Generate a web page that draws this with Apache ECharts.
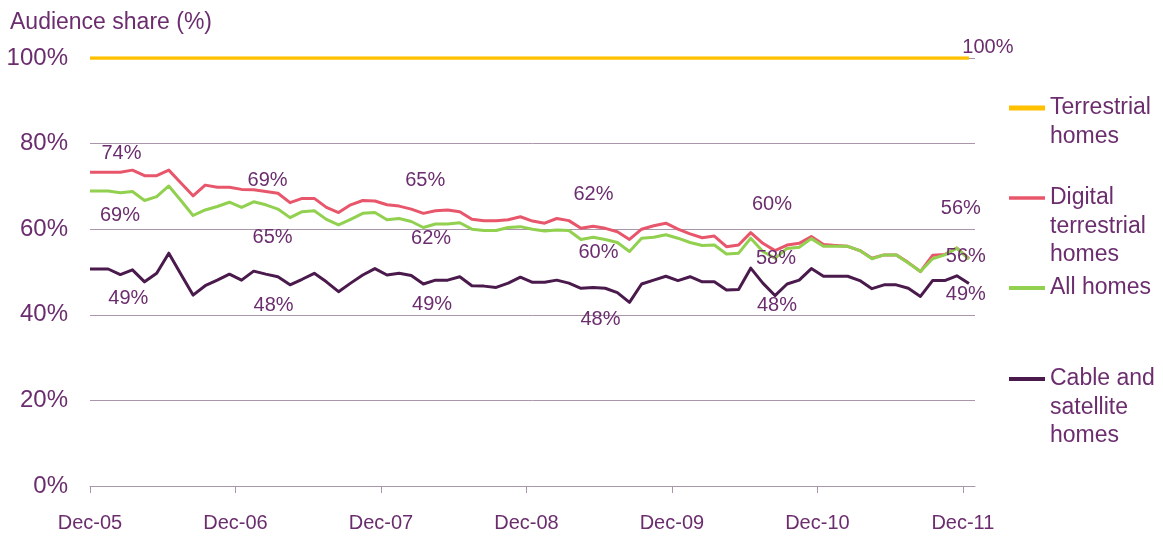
<!DOCTYPE html>
<html>
<head>
<meta charset="utf-8">
<script src="https://cdn.jsdelivr.net/npm/echarts@6/dist/echarts.min.js"></script>
<style>
  html, body { margin: 0; padding: 0; background: #ffffff; }
  #chart { width: 1163px; height: 538px; }
</style>
</head>
<body>
<div id="chart"></div>
<script>
// ---- data -------------------------------------------------------------
// Monthly readings, Dec-05 through Dec-11
const monthNames = ['Jan','Feb','Mar','Apr','May','Jun','Jul','Aug','Sep','Oct','Nov','Dec'];
const months = [];
for (let i = 0; i < 73; i++) {
  const m = (11 + i) % 12;
  const y = 5 + Math.floor((11 + i) / 12);
  months.push(monthNames[m] + '-' + String(y).padStart(2, '0'));
}

const tickLabels = ['Dec-05', 'Dec-06', 'Dec-07', 'Dec-08', 'Dec-09', 'Dec-10', 'Dec-11'];

const terrestrial = [
  100, 100, 100, 100, 100, 100, 100, 100, 100, 100, 100, 100,
  100, 100, 100, 100, 100, 100, 100, 100, 100, 100, 100, 100,
  100, 100, 100, 100, 100, 100, 100, 100, 100, 100, 100, 100,
  100, 100, 100, 100, 100, 100, 100, 100, 100, 100, 100, 100,
  100, 100, 100, 100, 100, 100, 100, 100, 100, 100, 100, 100,
  100, 100, 100, 100, 100, 100, 100, 100, 100, 100, 100, 100,
  100
];

const digitalTerrestrial = [
  73.3, 73.3, 73.3, 73.8, 72.5, 72.5, 73.8, 70.8, 67.8, 70.3, 69.8, 69.8,
  69.3, 69.2, 68.8, 68.4, 66.2, 67.2, 67.2, 65.1, 63.9, 65.7, 66.7, 66.6,
  65.7, 65.4, 64.7, 63.7, 64.3, 64.5, 64.1, 62.3, 62.0, 62.0, 62.2, 62.9,
  61.9, 61.4, 62.5, 62.0, 60.2, 60.7, 60.2, 59.4, 57.6, 60.0, 60.8, 61.4,
  60.0, 58.9, 58.0, 58.4, 55.9, 56.3, 59.2, 56.7, 55.0, 56.3, 56.7, 58.3,
  56.4, 56.2, 56.0, 55.0, 53.2, 54.0, 54.0, 52.2, 50.1, 53.9, 54.1, 55.6,
  53.1
];

const allHomes = [
  68.9, 68.9, 68.5, 68.8, 66.7, 67.6, 70.1, 66.7, 63.2, 64.5, 65.3, 66.3,
  65.1, 66.4, 65.7, 64.7, 62.7, 64.1, 64.3, 62.3, 61.0, 62.3, 63.7, 63.9,
  62.2, 62.5, 61.8, 60.4, 61.2, 61.2, 61.5, 60.0, 59.7, 59.7, 60.4, 60.6,
  60.0, 59.6, 59.8, 59.7, 57.6, 58.1, 57.6, 56.9, 54.8, 57.9, 58.1, 58.7,
  57.9, 56.9, 56.2, 56.3, 54.2, 54.4, 57.9, 54.8, 53.2, 55.5, 55.8, 57.8,
  56.0, 56.0, 56.0, 55.0, 53.1, 54.0, 54.0, 52.1, 50.1, 53.1, 54.0, 55.6,
  53.0
];

const cableSatellite = [
  50.7, 50.7, 49.4, 50.5, 47.7, 49.7, 54.4, 49.5, 44.6, 46.8, 48.1, 49.5,
  48.1, 50.2, 49.5, 48.9, 47.0, 48.3, 49.7, 47.7, 45.4, 47.4, 49.3, 50.8,
  49.3, 49.7, 49.2, 47.2, 48.1, 48.1, 48.9, 46.8, 46.7, 46.4, 47.4, 48.8,
  47.6, 47.6, 48.1, 47.4, 46.2, 46.4, 46.2, 45.2, 42.9, 47.2, 48.1, 49.0,
  48.0, 48.9, 47.7, 47.7, 45.8, 45.9, 50.9, 47.4, 44.5, 47.2, 48.1, 50.8,
  49.0, 49.0, 49.0, 48.0, 46.1, 47.0, 47.0, 46.2, 44.3, 48.0, 48.0, 49.1,
  47.3
];

// Which monthly readings carry a value annotation (indices into the arrays)
const terrestrialNotes = [72];
const dttNotes = [3, 12, 25, 36, 48, 71];
const allHomesNotes = [0, 12, 24, 36, 48, 71];
const cableNotes = [2, 12, 24, 36, 48, 71];

// ---- layout / style ---------------------------------------------------
const FONT = "'Liberation Sans', Arial, Helvetica, sans-serif";
const TEXT = '#6b2d6e';
const GRID = '#a996ab';

// pixel offsets of each annotation from the reading it describes
const terrestrialOffsets = [[19, -11]];
const dttOffsets = [[-11, -17], [26, -9], [26, -26], [61, -27], [94, -25], [4, -40]];
const allHomesOffsets = [[30, 24], [31, 30], [44, 19], [66, 23], [98, 20], [9, 8]];
const cableOffsets = [[8, 24], [32, 25], [45, 29], [68, 37], [99, 25], [9, 19]];

// readings sit mid-month; the opening reading is pinned to the axis origin
const monthPos = months.map((m, i) => (i === 0 ? 0 : i + 0.5));
const tickValues = tickLabels.map((t, i) => i * 12);

function makeSeries(name, values, color, width, notes, offsets) {
  return {
    name: name,
    type: 'line',
    data: values.map((v, i) => [monthPos[i], v]),
    showSymbol: false,
    symbol: 'none',
    lineStyle: { color: color, width: width, join: 'round' },
    itemStyle: { color: color },
    emphasis: { disabled: true },
    markPoint: {
      silent: true,
      symbol: 'circle',
      symbolSize: 1,
      itemStyle: { color: 'rgba(0,0,0,0)' },
      animation: false,
      label: {
        show: true,
        position: 'inside',
        color: TEXT,
        fontSize: 20,
        fontFamily: FONT,
        formatter: p => Math.round(p.value) + '%'
      },
      data: notes.map((idx, j) => ({
        coord: [monthPos[idx], values[idx]],
        value: values[idx],
        label: { offset: offsets[j] }
      }))
    }
  };
}

const COLORS = {
  'Terrestrial homes': '#ffc000',
  'Digital terrestrial homes': '#e8566b',
  'All homes': '#92d050',
  'Cable and satellite homes': '#4a1a4d'
};

// legend entries: wrapped text, icon-row centre and bar thickness
const LINE_H = 28.5;
const legendRows = [
  { name: 'Terrestrial homes', text: 'Terrestrial\nhomes', centre: 108, thick: 5 },
  { name: 'Digital terrestrial homes', text: 'Digital\nterrestrial\nhomes', centre: 198, thick: 3.5 },
  { name: 'All homes', text: 'All homes', centre: 288, thick: 4 },
  { name: 'Cable and satellite homes', text: 'Cable and\nsatellite\nhomes', centre: 379, thick: 4 }
];

const legends = legendRows.map(row => {
  const lines = row.text.split('\n').length;
  const h = lines * LINE_H;
  const barTop = LINE_H / 2 - row.thick / 2;
  return {
    data: [row.name],
    orient: 'vertical',
    left: 1009,
    top: row.centre - LINE_H / 2,
    padding: 0,
    itemWidth: 36,
    itemHeight: h,
    selectedMode: false,
    icon: 'path://M0,' + barTop + 'h36v' + row.thick + 'h-36z M0,0h0 M36,' + h + 'h0',
    itemStyle: { color: COLORS[row.name], borderWidth: 0 },
    formatter: () => row.text,
    textStyle: { color: TEXT, fontSize: 23, lineHeight: LINE_H, fontFamily: FONT }
  };
});

const option = {
  animation: false,
  backgroundColor: '#ffffff',
  title: {
    text: 'Audience share (%)',
    left: 5,
    top: 6,
    textStyle: { color: TEXT, fontSize: 23, fontWeight: 'normal', fontFamily: FONT }
  },
  legend: legends,
  grid: { left: 90, right: 188, top: 58, bottom: 52, containLabel: false },
  xAxis: {
    type: 'value',
    min: 0,
    max: 73,
    interval: 12,
    axisLine: { show: true, lineStyle: { color: GRID, width: 1 } },
    axisTick: { show: true, length: 7, customValues: tickValues, lineStyle: { color: GRID } },
    splitLine: { show: false },
    axisLabel: {
      customValues: tickValues,
      color: TEXT,
      fontSize: 20,
      fontFamily: FONT,
      margin: 27,
      showMaxLabel: true,
      formatter: v => (v % 12 === 0 && tickLabels[v / 12]) ? tickLabels[v / 12] : ''
    }
  },
  yAxis: {
    type: 'value',
    min: 0,
    max: 100,
    interval: 20,
    axisLine: { show: false },
    axisTick: { show: false },
    splitLine: { show: true, lineStyle: { color: GRID, width: 1 } },
    axisLabel: {
      color: TEXT,
      fontSize: 24,
      fontFamily: FONT,
      margin: 22,
      formatter: '{value}%'
    }
  },
  series: [
    makeSeries('Terrestrial homes', terrestrial, COLORS['Terrestrial homes'], 3.5, terrestrialNotes, terrestrialOffsets),
    makeSeries('Digital terrestrial homes', digitalTerrestrial, COLORS['Digital terrestrial homes'], 3, dttNotes, dttOffsets),
    makeSeries('All homes', allHomes, COLORS['All homes'], 3, allHomesNotes, allHomesOffsets),
    makeSeries('Cable and satellite homes', cableSatellite, COLORS['Cable and satellite homes'], 3, cableNotes, cableOffsets)
  ]
};

const chart = echarts.init(document.getElementById('chart'), null, { renderer: 'canvas' });
chart.setOption(option);
</script>
</body>
</html>
